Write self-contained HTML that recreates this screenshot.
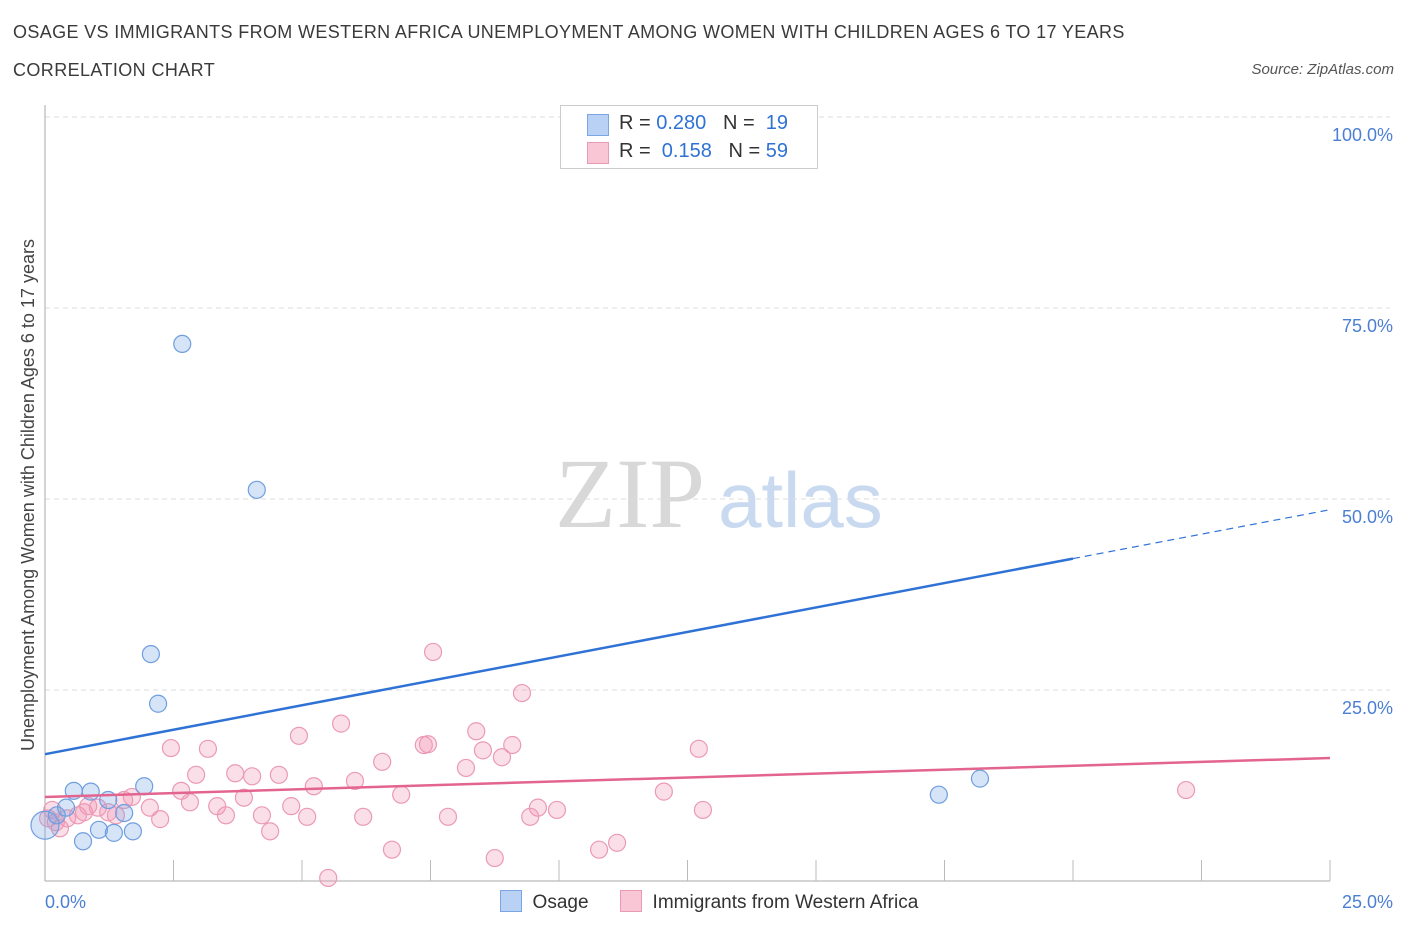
<!DOCTYPE html>
<html><head><meta charset="utf-8"><style>
body{margin:0;background:#fff;font-family:"Liberation Sans",sans-serif;}
.t{position:absolute;color:#333;}
</style></head><body>
<div style="position:relative;width:1406px;height:930px;overflow:hidden">
<div class="t" style="left:13px;top:22px;font-size:18px;letter-spacing:0.36px;color:#3a3a3a">OSAGE VS IMMIGRANTS FROM WESTERN AFRICA UNEMPLOYMENT AMONG WOMEN WITH CHILDREN AGES 6 TO 17 YEARS</div>
<div class="t" style="left:13px;top:60px;font-size:18px;letter-spacing:0.4px;color:#3a3a3a">CORRELATION CHART</div>
<div class="t" style="right:12px;top:61px;font-size:15px;font-style:italic;color:#555">Source: ZipAtlas.com</div>
<svg id="chart" width="1406" height="930" style="position:absolute;left:0;top:0"></svg>
</div>
<script>
const xTicks=[0,25];
const yTicks=[25,50,75,100];
const osageX=[2.67,4.12,2.06,2.20,0.0,0.23,0.56,0.89,0.41,1.23,1.54,1.93,1.05,1.34,1.71,0.74,17.39,18.19,11.48];
const osageY=[70.3,51.2,29.7,23.2,7.3,8.6,11.8,11.7,9.6,10.6,8.9,12.4,6.7,6.3,6.5,5.2,11.3,13.4,100];
const immX=[7.55,9.28,5.76,4.94,8.39,7.45,7.37,9.09,8.52,8.89,12.72,2.45,3.17,6.56,8.19,3.70,4.03,2.94,4.55,6.03,5.23,2.65,3.87,1.69,2.82,3.35,4.79,6.93,12.04,22.20,2.04,9.59,9.96,12.80,3.52,4.22,5.10,6.19,7.84,9.44,2.24,1.38,1.03,0.76,0.43,0.21,0.06,4.38,6.75,10.78,11.13,8.75,5.51,0.84,1.54,1.23,0.29,0.14,0.64];
const immY=[29.98,24.6,20.6,19.0,19.6,17.9,17.8,17.8,17.1,16.2,17.3,17.4,17.3,15.6,14.8,14.1,13.7,13.9,13.9,13.1,12.4,11.8,10.9,11.0,10.3,9.8,9.8,11.3,11.7,11.9,9.6,9.6,9.3,9.3,8.6,8.6,8.4,8.4,8.4,8.4,8.1,8.6,9.6,9.0,8.2,7.7,8.2,6.5,4.1,4.1,5.0,3.0,0.4,9.8,10.6,9.0,6.9,9.3,8.6];
const osageTrend=[16.6,1.28];
const immTrend=[11.0,0.204];
const X=v=>45+v/25*1285, Y=v=>881-v/100*764;
const svg=document.getElementById('chart');const NS='http://www.w3.org/2000/svg';
function mk(t,a){const e=document.createElementNS(NS,t);for(const k in a)e.setAttribute(k,a[k]);svg.appendChild(e);return e;}
let w=mk('text',{x:555,y:527,'font-size':100,'font-family':'Liberation Serif,serif',fill:'#d8d8d8'});w.textContent='ZIP';


w=mk('text',{x:718,y:527,'font-size':78,'font-family':'Liberation Sans,sans-serif',fill:'#c9daf0'});w.textContent='atlas';


yTicks.forEach(v=>{let g=mk('line',{x1:45,x2:1390,y1:Y(v),y2:Y(v),stroke:'#ddd','stroke-dasharray':'5,4'});


let t=mk('text',{x:1393,y:Y(v)+24,'text-anchor':'end','font-size':18,fill:'#4a7fd4'});t.textContent=v.toFixed(1)+'%';

});
let ax=mk('line',{x1:45,x2:45,y1:105,y2:881,stroke:'#aaa'});


ax=mk('line',{x1:45,x2:1330,y1:881,y2:881,stroke:'#aaa'});


for(let i=1;i<=10;i++){let tk=mk('line',{x1:X(i*2.5),x2:X(i*2.5),y1:860,y2:881,stroke:'#bbb'});

}
xTicks.forEach(v=>{let t=mk('text',{x:v==0?45:1393,y:908,'text-anchor':v==0?'start':'end','font-size':18,fill:'#4a7fd4'});t.textContent=v.toFixed(1)+'%';

});
let yl=mk('text',{transform:'translate(34,495) rotate(-90)','text-anchor':'middle','font-size':18,fill:'#444'});yl.textContent='Unemployment Among Women with Children Ages 6 to 17 years';


immX.forEach((x,i)=>{let c=mk('circle',{cx:X(x),cy:Y(immY[i]),r:8.5,fill:'rgba(242,150,180,0.3)',stroke:'#eb9ab4','stroke-width':1.2});

});
osageX.forEach((x,i)=>{let c=mk('circle',{cx:X(x),cy:Y(osageY[i]),r:i==4?14:8.5,fill:'rgba(120,165,230,0.3)',stroke:'#6f9ee0','stroke-width':1.2});

});
let l=mk('line',{x1:X(0),y1:Y(osageTrend[0]),x2:X(20),y2:Y(osageTrend[0]+20*osageTrend[1]),stroke:'#2f72d6','stroke-width':2.5});


l=mk('line',{x1:X(20),y1:Y(osageTrend[0]+20*osageTrend[1]),x2:X(25),y2:Y(osageTrend[0]+25*osageTrend[1]),stroke:'#2f72d6','stroke-width':1.2,'stroke-dasharray':'7,5'});


l=mk('line',{x1:X(0),y1:Y(immTrend[0]),x2:X(25),y2:Y(immTrend[0]+25*immTrend[1]),stroke:'#e3648f','stroke-width':2.5});


</script>
<div style="position:absolute;left:560px;top:105px;width:256px;height:62px;border:1px solid #ccc;background:#fff;font-size:20px;color:#333">
 <div style="position:absolute;left:26px;top:8px;width:20px;height:20px;background:#b9d1f4;border:1px solid #7aa6e6"></div>
 <div style="position:absolute;left:58px;top:6px">R = <span style="color:#2f72d6">0.280</span>&nbsp;&nbsp;&nbsp;N = &nbsp;<span style="color:#2f72d6">19</span></div>
 <div style="position:absolute;left:26px;top:36px;width:20px;height:20px;background:#f8c6d5;border:1px solid #eb9ab4"></div>
 <div style="position:absolute;left:58px;top:34px">R = &nbsp;<span style="color:#2f72d6">0.158</span>&nbsp;&nbsp;&nbsp;N = <span style="color:#2f72d6">59</span></div>
</div>
<div style="position:absolute;left:500px;top:890px;font-size:19px;color:#333">
 <span style="position:absolute;left:0;top:0;white-space:nowrap"><span style="display:inline-block;width:20px;height:20px;background:#b9d1f4;border:1px solid #7aa6e6;vertical-align:-4px"></span>&nbsp; Osage</span>
 <span style="position:absolute;left:120px;top:0;white-space:nowrap"><span style="display:inline-block;width:20px;height:20px;background:#f8c6d5;border:1px solid #eb9ab4;vertical-align:-4px"></span>&nbsp; Immigrants from Western Africa</span>
</div>
</body></html>
